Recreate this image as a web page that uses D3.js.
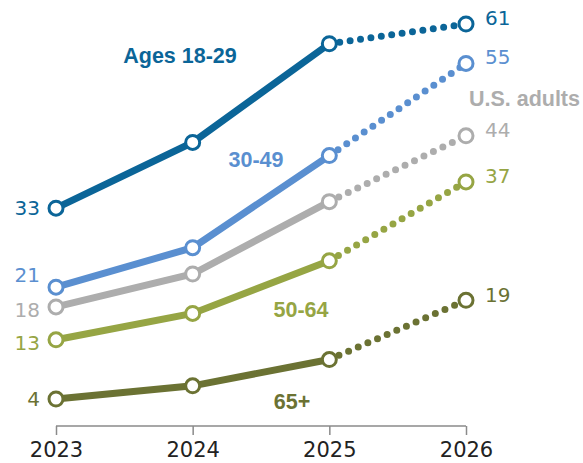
<!DOCTYPE html>
<html><head><meta charset="utf-8">
<script src="https://cdn.jsdelivr.net/npm/d3@7"></script>
<style>body{margin:0;background:#fff}svg{display:block}</style>
</head><body><div id="chart"></div>
<script>
const years = [2023, 2024, 2025, 2026];
const groups = ["Ages 18-29", "30-49", "U.S. adults", "50-64", "65+"];
const v1829 = [33, 43, 58, 61];
const v3049 = [21, 27, 41, 55];
const vAdults = [18, 23, 34, 44];
const v5064 = [13, 17, 25, 37];
const v65 = [4, 6, 10, 19];
const colors = ["#0b6598", "#5a8fd0", "#adadad", "#96a544", "#6b7233"];
const seriesValues = [v1829, v3049, vAdults, v5064, v65];

const W = 583, H = 463;
const svg = d3.select("#chart").append("svg").attr("width", W).attr("height", H);
const x = d3.scalePoint().domain(years).range([56, 466]);
const y = d3.scaleLinear().domain([4, 61]).range([399, 24]);

// axis
const ax = svg.append("g").attr("transform", "translate(0,426)")
  .call(d3.axisBottom(x).tickSize(9).tickSizeOuter(0).tickPadding(7).tickFormat(d3.format("d")));
ax.select(".domain").attr("stroke", "#8a8a8a").attr("stroke-width", 1.5).attr("d", "M56,0H466");
ax.selectAll(".tick line").attr("stroke", "#8a8a8a").attr("stroke-width", 1.5);
ax.selectAll(".tick text").attr("fill", "#222").attr("font-family", "DejaVu Sans, sans-serif")
  .attr("font-size", 21).attr("dy", "0.72em");

const line = d3.line().x(d => x(d.year)).y(d => y(d.v));

// draw back to front
const order = [4, 3, 2, 1, 0];
order.forEach(i => {
  const pts = years.map((yr, j) => ({ year: yr, v: seriesValues[i][j] }));
  const g = svg.append("g");
  g.append("path").datum(pts.slice(0, 3)).attr("d", line)
    .attr("fill", "none").attr("stroke", colors[i]).attr("stroke-width", 7);
  g.append("path").datum(pts.slice(2, 4)).attr("d", line)
    .attr("fill", "none").attr("stroke", colors[i]).attr("stroke-width", 7)
    .attr("stroke-linecap", "round").attr("stroke-dasharray", "0 10.5");
  g.selectAll("circle").data(pts).join("circle")
    .attr("cx", d => x(d.year)).attr("cy", d => y(d.v)).attr("r", 7)
    .attr("fill", "#fff").attr("stroke", colors[i]).attr("stroke-width", 3);
});

// value labels
const numFont = "DejaVu Sans, sans-serif";
const leftDy = [0, -12, 3, 3, 0];
seriesValues.forEach((vals, i) => {
  svg.append("text").attr("x", 40).attr("y", y(vals[0]) + leftDy[i])
    .attr("text-anchor", "end").attr("dominant-baseline", "central")
    .attr("font-family", numFont).attr("font-size", 20).attr("fill", colors[i]).text(vals[0]);
});
const rightDy = [-6, -6, -6, -6, -5];
seriesValues.forEach((vals, i) => {
  svg.append("text").attr("x", 485).attr("y", y(vals[3]) + rightDy[i])
    .attr("text-anchor", "start").attr("dominant-baseline", "central")
    .attr("font-family", numFont).attr("font-size", 20).attr("fill", colors[i]).text(vals[3]);
});

// group labels
const labelPos = [[180, 63, "middle"], [256, 167, "middle"], [580, 106, "end"], [301, 317, "middle"], [292, 409, "middle"]];
groups.forEach((g, i) => {
  svg.append("text").attr("x", labelPos[i][0]).attr("y", labelPos[i][1])
    .attr("text-anchor", labelPos[i][2])
    .attr("font-family", "Liberation Sans, Arial, sans-serif").attr("font-weight", "bold")
    .attr("font-size", 21.5).attr("fill", colors[i]).text(g);
});
</script></body></html>
